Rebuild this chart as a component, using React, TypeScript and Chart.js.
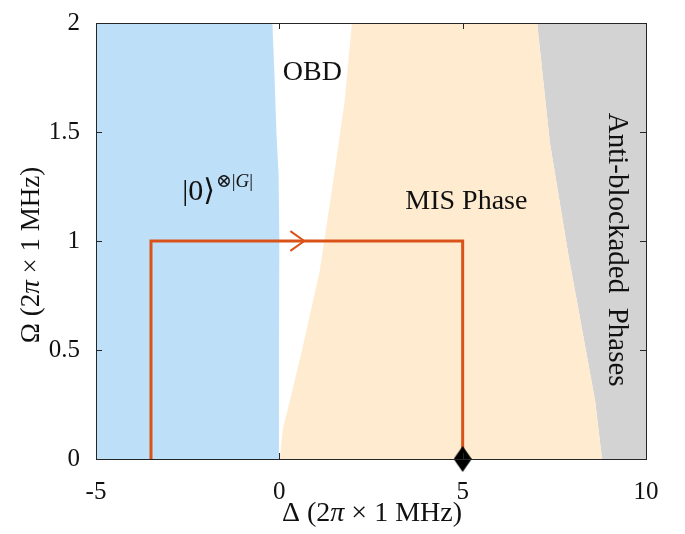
import React, { useEffect, useRef } from "react";
import { Chart, registerables } from "chart.js";
Chart.register(...registerables);

// Axis ticks
const deltaTicks = [-5, 0, 5, 10];
const omegaTicks = [0, 0.5, 1, 1.5, 2];

// Phase boundaries: Δ of each boundary at given Ω samples
const blueEdgeOmega = [0, 0.5, 1.0, 1.3, 1.5, 1.75, 2.0];
const blueEdgeDelta = [-0.03, -0.01, 0.0, -0.02, -0.08, -0.13, -0.19];
const misEdgeOmega = [0, 0.14, 0.27, 0.5, 0.86, 1.32, 1.64, 2.0];
const misEdgeDelta = [0.01, 0.1, 0.29, 0.62, 1.1, 1.51, 1.78, 1.98];
const antiEdgeOmega = [0, 0.27, 0.95, 1.45, 2.0];
const antiEdgeDelta = [8.8, 8.61, 7.87, 7.38, 7.03];

// Sweep path
const pathDelta = [-3.5, -3.5, 5, 5];
const pathOmega = [0, 1, 1, 0];
const arrowDelta = [0.3, 0.68, 0.3];
const arrowOmega = [1.045, 1, 0.955];
const markerDelta = [5];
const markerOmega = [0];

// Annotations (data coordinates)
const obdPos = [0.9, 1.77];
const productPos = [-2.65, 1.19];
const misPos = [5.1, 1.18];
const antiPos = [9.2, 0.96];

const SERIF = "'Liberation Serif', 'DejaVu Serif', serif";
const TEXT = "#111111";
const AXIS = "#262626";

const pts = (xs: number[], ys: number[]) => xs.map((x, i) => ({ x, y: ys[i] }));

function drawSegs(ctx: CanvasRenderingContext2D, segs: { t: string; f: string }[], x: number, y: number) {
  let w = 0;
  for (const s of segs) { ctx.font = s.f; w += ctx.measureText(s.t).width; }
  let cx = x - w / 2;
  for (const s of segs) {
    ctx.font = s.f;
    ctx.fillText(s.t, cx, y);
    cx += ctx.measureText(s.t).width;
  }
}

export default function App() {
  const ref = useRef<HTMLCanvasElement | null>(null);
  useEffect(() => {
    const canvas = ref.current!;
    const dc = document.createElement("canvas");
    dc.width = 18; dc.height = 26;
    const g = dc.getContext("2d")!;
    g.beginPath(); g.moveTo(9, 0); g.lineTo(18, 13); g.lineTo(9, 26); g.lineTo(0, 13); g.closePath();
    g.fillStyle = "#000"; g.fill();

    const blueShape = [{ x: -5, y: 0 }, ...pts(blueEdgeDelta, blueEdgeOmega), { x: -5, y: 2 }];
    const misShape = [...pts(misEdgeDelta, misEdgeOmega), ...pts(antiEdgeDelta, antiEdgeOmega).reverse()];
    const antiShape = [...pts(antiEdgeDelta, antiEdgeOmega), { x: 10, y: 2 }, { x: 10, y: 0 }];

    const region = (data: any[], color: string) => ({
      data, fill: "shape", backgroundColor: color, borderWidth: 0, borderColor: "rgba(0,0,0,0)",
      pointRadius: 0, order: 10, tension: 0,
    });

    const boxPlugin = {
      id: "box",
      afterDatasetsDraw(chart: any) {
        const { ctx, chartArea: a, scales } = chart;
        ctx.save();
        ctx.strokeStyle = AXIS; ctx.lineWidth = 1;
        const L = 6;
        ctx.beginPath();
        for (const v of deltaTicks) {
          const px = Math.round(scales.x.getPixelForValue(v)) + 0.5;
          ctx.moveTo(px, a.bottom); ctx.lineTo(px, a.bottom - L);
          ctx.moveTo(px, a.top); ctx.lineTo(px, a.top + L);
        }
        for (const v of omegaTicks) {
          const py = Math.round(scales.y.getPixelForValue(v)) + 0.5;
          ctx.moveTo(a.left, py); ctx.lineTo(a.left + L, py);
          ctx.moveTo(a.right, py); ctx.lineTo(a.right - L, py);
        }
        ctx.stroke();
        ctx.strokeRect(Math.round(a.left) + 0.5, Math.round(a.top) + 0.5, Math.round(a.right - a.left), Math.round(a.bottom - a.top));
        ctx.restore();
      },
      afterDraw(chart: any) {
        const { ctx, chartArea: a, scales } = chart;
        const X = (v: number) => scales.x.getPixelForValue(v);
        const Y = (v: number) => scales.y.getPixelForValue(v);
        ctx.save();
        ctx.fillStyle = TEXT;
        ctx.textBaseline = "middle";
        ctx.textAlign = "left";
        const big = `28px ${SERIF}`;
        drawSegs(ctx, [{ t: "OBD", f: big }], X(obdPos[0]), Y(obdPos[1]));
        drawSegs(ctx, [{ t: "MIS Phase", f: big }], X(misPos[0]), Y(misPos[1]));
        // |0>^{⊗|G|}
        ctx.textBaseline = "alphabetic";
        ctx.font = `30px ${SERIF}`;
        const px = X(productPos[0]);
        const py = Y(productPos[1]);
        const t1 = "|0⟩";
        ctx.fillText(t1, px, py);
        let cx = px + ctx.measureText(t1).width + 1;
        const sup = [
          { t: "⊗|", f: `19px ${SERIF}` },
          { t: "G", f: `italic 19px ${SERIF}` },
          { t: "|", f: `19px ${SERIF}` },
        ];
        for (const s of sup) { ctx.font = s.f; ctx.fillText(s.t, cx, py - 13); cx += ctx.measureText(s.t).width; }
        // Anti-blockaded Phases (rotated)
        ctx.save();
        ctx.translate(X(antiPos[0]), Y(antiPos[1]));
        ctx.rotate(Math.PI / 2);
        ctx.textBaseline = "middle";
        drawSegs(ctx, [{ t: "Anti-blockaded  Phases", f: `29px ${SERIF}` }], 0, 0);
        ctx.restore();
        // Axis titles
        ctx.textBaseline = "middle";
        ctx.fillStyle = TEXT;
        const tf = `28px ${SERIF}`;
        const tfi = `italic 28px ${SERIF}`;
        drawSegs(ctx, [
          { t: "Δ (2", f: tf }, { t: "π", f: tfi }, { t: " × 1 MHz)", f: tf },
        ], (a.left + a.right) / 2 + 1, 514);
        const tfy = `27px ${SERIF}`;
        const tfyi = `italic 27px ${SERIF}`;
        ctx.save();
        ctx.translate(32, 255);
        ctx.rotate(-Math.PI / 2);
        drawSegs(ctx, [
          { t: "Ω (2", f: tfy }, { t: "π", f: tfyi }, { t: " × 1 MHz)", f: tfy },
        ], 0, 0);
        ctx.restore();
        ctx.restore();
      },
    };

    const tickFont = { family: SERIF, size: 25 };
    const chart = new Chart(canvas, {
      type: "line",
      data: {
        datasets: [
          region(blueShape, "rgb(190,223,248)") as any,
          region(misShape, "rgb(254,235,208)") as any,
          region(antiShape, "rgb(211,211,211)") as any,
          {
            data: pts(pathDelta, pathOmega), borderColor: "rgb(217,83,25)", borderWidth: 3,
            pointRadius: 0, fill: false, order: 2, tension: 0,
          },
          {
            data: pts(arrowDelta, arrowOmega), borderColor: "rgb(217,83,25)", borderWidth: 2,
            pointRadius: 0, fill: false, order: 1, tension: 0,
          },
          {
            data: pts(markerDelta, markerOmega), showLine: false, pointStyle: dc as any,
            pointRadius: 10, fill: false, order: 0, clip: false as any,
          },
        ],
      },
      options: {
        animation: false,
        responsive: false,
        maintainAspectRatio: false,
        layout: { padding: { top: 20, right: 39, left: 0, bottom: 0 } },
        plugins: { legend: { display: false }, tooltip: { enabled: false } },
        scales: {
          x: {
            type: "linear", min: -5, max: 10,
            afterBuildTicks: (s: any) => { s.ticks = deltaTicks.map((v) => ({ value: v })); },
            afterFit: (s: any) => { s.height = 75; },
            grid: { display: false }, border: { display: false },
            ticks: { font: tickFont, color: TEXT, padding: 10, maxRotation: 0, callback: (v: any) => String(v) },
          },
          y: {
            type: "linear", min: 0, max: 2,
            afterBuildTicks: (s: any) => { s.ticks = omegaTicks.map((v) => ({ value: v })); },
            afterFit: (s: any) => { s.width = 96; },
            grid: { display: false }, border: { display: false },
            ticks: { font: tickFont, color: TEXT, padding: 8, callback: (v: any) => String(v) },
          },
        },
      },
      plugins: [boxPlugin],
    });
    return () => chart.destroy();
  }, []);
  return (
    <div style={{ position: "absolute", left: 0, top: 0, width: 685, height: 534, background: "#fff" }}>
      <canvas ref={ref} width={685} height={534} style={{ display: "block" }} />
    </div>
  );
}
